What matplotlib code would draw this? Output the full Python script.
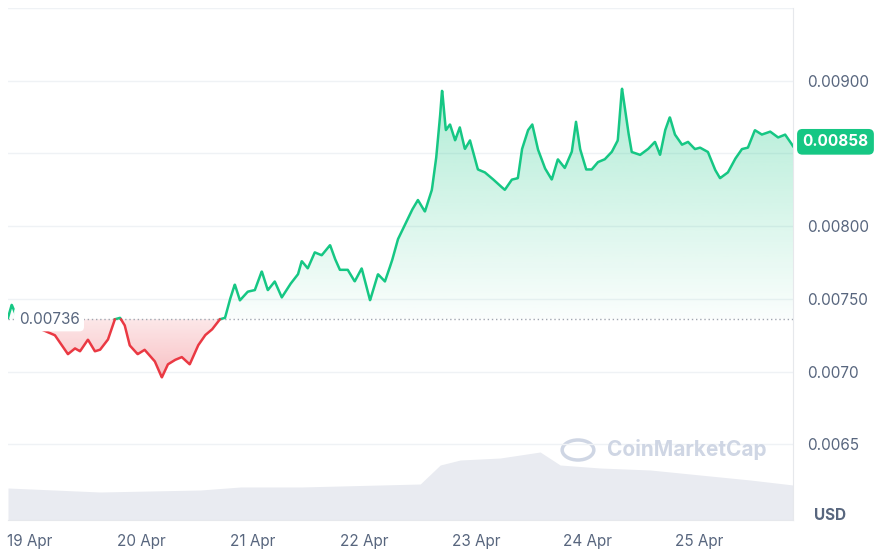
import numpy as np
import matplotlib.pyplot as plt
from matplotlib.patches import Circle
from matplotlib.colors import LinearSegmentedColormap
from matplotlib.path import Path

# hours since 19 Apr 00:00
hours = [-4.7, -3.9, -3.0, -1.1, 5.4, 6.9, 8.2, 9.7, 10.8, 12.5, 14.0, 15.1, 16.8, 18.3, 19.4,
         20.4, 21.5, 23.2, 24.7, 26.9, 28.4, 29.7, 31.2, 32.7, 34.4, 36.2, 37.7, 39.2, 40.9,
         42.0, 43.0, 44.1, 45.2, 46.9, 48.4, 49.9, 51.2, 52.7, 54.2, 56.0, 57.7, 58.5, 59.8,
         61.3, 62.8, 64.6, 65.6, 66.7, 68.4, 69.9, 71.4, 73.2, 74.9, 76.4, 77.9, 79.2, 80.7,
         82.2, 83.5, 85.0, 86.5, 87.4, 88.2, 88.7, 89.5, 90.4, 91.5, 92.5, 93.6, 94.7, 96.4,
         97.9, 99.4, 101.1, 102.2, 103.7, 105.0, 105.9, 107.2, 108.1, 109.3, 110.8, 112.3,
         113.6, 115.1, 116.6, 117.5, 118.4, 119.7, 120.9, 122.2, 123.7, 125.2, 126.5, 127.4,
         128.7, 129.5, 131.3, 133.0, 134.5, 135.6, 136.7, 137.7, 138.8, 140.3, 141.6, 143.1,
         144.2, 145.9, 147.4, 148.5, 150.2, 151.7, 153.2, 154.5, 156.0, 157.5, 159.3, 161.0,
         162.5, 163.6, 164.2]
price = [.00737, .00746, .00739, .00734, .00725, .00718, .00712, .00716, .00714, .00722, .00714,
         .00715, .00722, .00736, .00737, .00732, .00718, .00712, .00715, .00707, .00696, .00705,
         .00708, .00710, .00705, .00718, .00725, .00729, .00736, .00737, .00749, .00760, .00749,
         .00755, .00756, .00769, .00756, .00762, .00751, .00760, .00767, .00776, .00771, .00782,
         .00780, .00787, .00778, .00770, .00770, .00762, .00771, .00749, .00767, .00762, .00776,
         .00791, .00801, .00811, .00818, .00810, .00825, .00846, .00873, .00894, .00866, .00870,
         .00859, .00868, .00853, .00859, .00839, .00837, .00833, .00828, .00825, .00832, .00833,
         .00853, .00866, .00870, .00853, .00840, .00832, .00846, .00840, .00851, .00872, .00853,
         .00839, .00839, .00844, .00846, .00851, .00859, .00895, .00866, .00851, .00849, .00853,
         .00858, .00849, .00866, .00875, .00863, .00856, .00858, .00853, .00854, .00851, .00839,
         .00833, .00837, .00846, .00853, .00854, .00866, .00863, .00865, .00861, .00863, .00858,
         .00855]
vol_hours = [-4.7, 15.1, 36.7, 45.3, 58.2, 84.0, 88.3, 92.6, 101.2, 109.8, 114.1, 122.7, 133.5, 144.2, 155.0, 164.2]
volume = [32, 28, 30, 33, 33, 36, 55, 60, 62, 68, 55, 52, 50, 45, 40, 35]

day_labels = ['19 Apr', '20 Apr', '21 Apr', '22 Apr', '23 Apr', '24 Apr', '25 Apr']
y_ticks = [0.0065, 0.0070, 0.0075, 0.0080, 0.0085, 0.0090]
y_labels = ['0.0065', '0.0070', '0.00750', '0.00800', '', '0.00900']
base = 0.00736
last = 0.00858

GREEN = '#16c784'
RED = '#ea3943'
GREY = '#58667e'

plt.rcParams['font.family'] = ['Inter', 'DejaVu Sans']
fig = plt.figure(figsize=(8.8, 5.56), dpi=100)
ax = fig.add_axes([8 / 880, 36 / 556, 785 / 880, 512 / 556])
x0, x1 = -4.7, 164.2
y0, y1 = 0.00598, 0.0095

# volume area on its own axes (bottom band)
vax = fig.add_axes(ax.get_position(), sharex=ax, zorder=0)
vax.fill_between(vol_hours, 0, volume, color='#e9ebf1', lw=0)
vax.set_ylim(0, 512)
vax.axis('off')
ax.set_zorder(1)
ax.patch.set_alpha(0)

for t in y_ticks + [0.0095]:
    ax.axhline(t, color='#eff2f5', lw=1, zorder=0)

h = np.array(hours)
p = np.array(price)
hd = np.linspace(h[0], h[-1], 3000)
pd_ = np.interp(hd, h, p)

gfill = ax.fill_between(hd, base, pd_, where=pd_ >= base, color='none', lw=0)
rfill = ax.fill_between(hd, base, pd_, where=pd_ <= base, color='none', lw=0)
grad = np.linspace(0, 1, 256).reshape(-1, 1)
gcm = LinearSegmentedColormap.from_list('g', [(22/255, 199/255, 132/255, 0.02), (22/255, 199/255, 132/255, 0.35)])
rcm = LinearSegmentedColormap.from_list('r', [(234/255, 57/255, 67/255, 0.35), (234/255, 57/255, 67/255, 0.12)])
gi = ax.imshow(grad, extent=[x0, x1, base, 0.0090], origin='lower', aspect='auto', cmap=gcm, zorder=1)
ri = ax.imshow(grad, extent=[x0, x1, 0.0069, base], origin='lower', aspect='auto', cmap=rcm, zorder=1)
gi.set_clip_path(Path.make_compound_path(*gfill.get_paths()), ax.transData)
ri.set_clip_path(Path.make_compound_path(*rfill.get_paths()), ax.transData)
ax.set_xlim(x0, x1)
ax.set_ylim(y0, y1)

ax.plot(hd, np.where(pd_ >= base, pd_, np.nan), color=GREEN, lw=1.8, zorder=3)
ax.plot(hd, np.where(pd_ <= base, pd_, np.nan), color=RED, lw=1.8, zorder=3)
ax.axhline(base, color='#a0a6b0', lw=1, ls=(0, (1, 2)), zorder=2)

ax.text(-2.4, base, '0.00736', color=GREY, fontsize=11, va='center', ha='left', zorder=4,
        bbox=dict(boxstyle='round,pad=0.3', fc='white', ec='none'))

for s in ['top', 'left']:
    ax.spines[s].set_visible(False)
for s in ['right', 'bottom']:
    ax.spines[s].set_color('#e6e8ec')

ax.yaxis.tick_right()
ax.set_yticks(y_ticks)
ax.set_yticklabels(y_labels)
ax.set_xticks([i * 24 for i in range(7)])
ax.set_xticklabels(day_labels)
ax.tick_params(length=0, labelsize=11, labelcolor=GREY, pad=10)

ax.text(1.012, last, '0.00858', transform=ax.get_yaxis_transform(), color='white', fontsize=11,
        fontweight='bold', va='center', ha='left',
        bbox=dict(boxstyle='round,pad=0.35', fc=GREEN, ec='none'))
fig.text(830 / 880, 40 / 556, 'USD', color=GREY, fontsize=11, fontweight='bold', ha='center', va='center')

# watermark
fig.text(607 / 880, 106 / 556, 'CoinMarketCap', color='#cfd6e4', fontsize=15, fontweight='bold',
         ha='left', va='center')
fig.add_artist(Circle((578 / 880, 106 / 556), 0.018, transform=fig.transFigure, fill=False,
                      ec='#cfd6e4', lw=2.5))

fig.savefig('out.png', dpi=100)
